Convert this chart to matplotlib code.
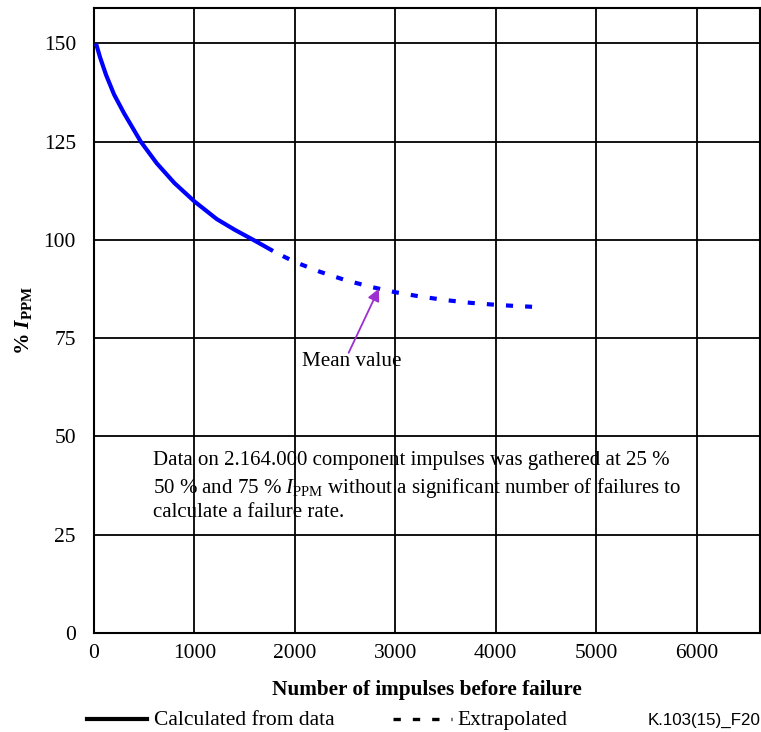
import matplotlib
matplotlib.use("Agg")
import matplotlib.pyplot as plt
from matplotlib.lines import Line2D

# Curve
calc_x = [20, 60, 120, 200, 300, 466, 625, 800, 1000, 1223, 1400, 1588, 1782]
calc_y = [150, 146.5, 142, 137, 132.2, 125, 119.5, 114.5, 109.8, 105.3, 102.6, 100.0, 97.2]
extra_x = [1880, 2000, 2250, 2500, 2750, 3000, 3250, 3500, 3750, 4000, 4200, 4361]
extra_y = [95.9, 94.4, 91.9, 89.8, 88.1, 86.7, 85.6, 84.7, 84.0, 83.5, 83.2, 83.0]

x_ticks = [0, 1000, 2000, 3000, 4000, 5000, 6000]
y_ticks = [0, 25, 50, 75, 100, 125, 150]

mean_xy = (2836, 87.6)
mean_tail_xy = (2535, 71.3)
mean_text_xy = (2562, 69.0)

plt.rcParams["font.family"] = "Liberation Serif"
plt.rcParams["mathtext.fontset"] = "custom"
plt.rcParams["mathtext.rm"] = "Liberation Serif"
plt.rcParams["mathtext.it"] = "Liberation Serif:italic"
plt.rcParams["mathtext.bf"] = "Liberation Serif:bold"
plt.rcParams["mathtext.bfit"] = "Liberation Serif:bold:italic"

fig = plt.figure(figsize=(7.61, 7.32), dpi=100)
ax = fig.add_axes([0.1235, 0.1352, 0.8752, 0.8538])

ax.plot(calc_x, calc_y, color="#0000ff", lw=3.0, solid_capstyle="butt",
        solid_joinstyle="round", zorder=3)
ax.plot(extra_x, extra_y, color="#0000ff", lw=3.0, dashes=(1.7, 2.9),
        dash_capstyle="butt", zorder=3)

ax.set_xlim(0, 6630)
ax.set_ylim(0, 159)
ax.set_xticks(x_ticks)
ax.set_yticks(y_ticks)
ax.tick_params(axis="x", length=0, labelsize=15.5, pad=8)
ax.tick_params(axis="y", length=0, labelsize=15.5, pad=13)
ax.grid(True, color="black", lw=1.3)
ax.set_axisbelow(True)
for s in ax.spines.values():
    s.set_linewidth(1.5)

ax.set_xlabel("Number of impulses before failure", fontsize=15.3,
              fontweight="bold", labelpad=12)
ax.set_ylabel(r"% $\mathbfit{I}_{\mathbf{PPM}}$", fontsize=15.5,
              fontweight="bold", labelpad=7)

ax.text(*mean_text_xy, "Mean value", fontsize=15.2, ha="center", va="center")
ax.annotate("", xy=mean_xy, xytext=mean_tail_xy,
            arrowprops=dict(arrowstyle="-|>", color="#9b2fd1", lw=1.3,
                            mutation_scale=18, shrinkA=0, shrinkB=0))

lines = [
    "Data on 2.164.000 component impulses was gathered at 25 %",
    r"50 % and 75 % $\mathit{I}_{\mathrm{PPM}}$ without a significant number of failures to",
    "calculate a failure rate.",
]
for txt, yy in zip(lines, [42.7, 35.6, 29.5]):
    ax.text(588, yy, txt, fontsize=15, ha="left", va="baseline")

# legend row
ly = 1 - 719 / 732
tb = 1 - 725 / 732
fig.add_artist(Line2D([87 / 761, 147 / 761], [ly, ly], color="black", lw=3))
fig.text(154 / 761, tb, "Calculated from data", fontsize=15.5,
         va="baseline", ha="left")
fig.add_artist(Line2D([393 / 761, 452 / 761], [ly, ly], color="black",
                      lw=2.4, dashes=(2.2, 3.6), dash_capstyle="butt"))
fig.text(457 / 761, tb, "Extrapolated", fontsize=15.5, va="baseline", ha="left")
fig.text(648 / 761, tb, "K.103(15)_F20", fontsize=12.2,
         family="Liberation Sans", va="baseline", ha="left")

fig.savefig("out.png", dpi=100)
